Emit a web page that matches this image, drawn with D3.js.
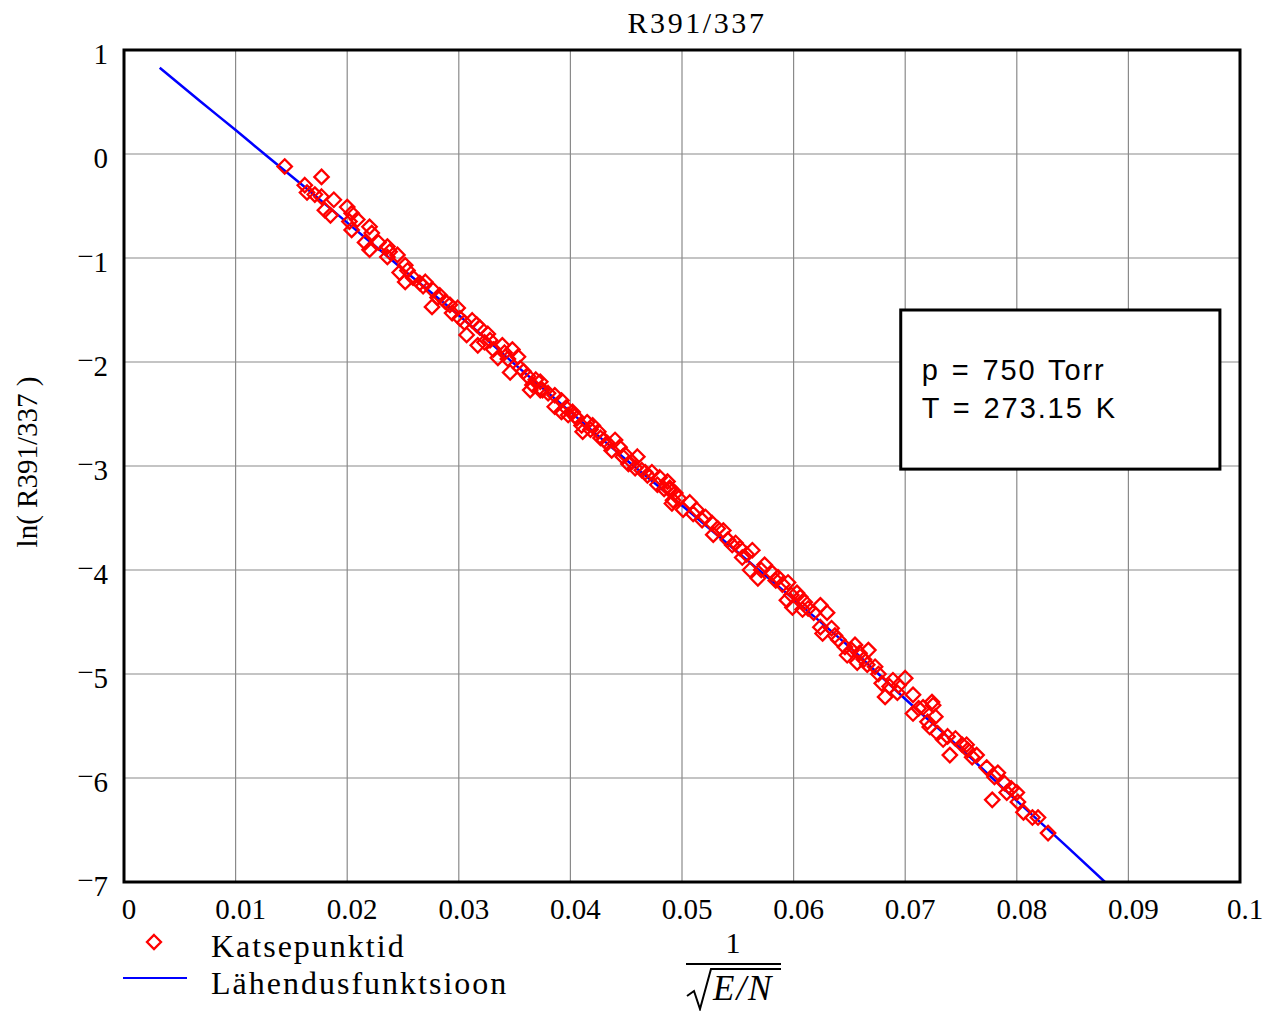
<!DOCTYPE html>
<html>
<head>
<meta charset="utf-8">
<script src="https://cdn.jsdelivr.net/npm/d3@7"></script>
<style>
  body { margin: 0; background: #fff; }
  text { font-family: "Liberation Serif", "Times New Roman", serif; fill: #000; }
</style>
</head>
<body>
<svg id="chart" width="1267" height="1011"></svg>
<script>
// ---- data -------------------------------------------------------------
const chartTitle = "R391/337";
const yAxisTitle = "ln( R391/337 )";
const legendLabels = ["Katsepunktid", "Lähendusfunktsioon"];
const infoLines = ["p = 750 Torr", "T = 273.15 K"];

const xTicks = [0, 0.01, 0.02, 0.03, 0.04, 0.05, 0.06, 0.07, 0.08, 0.09, 0.1];
const xTickLabels = ["0", "0.01", "0.02", "0.03", "0.04", "0.05", "0.06", "0.07", "0.08", "0.09", "0.1"];
const yTicks = [1, 0, -1, -2, -3, -4, -5, -6, -7];
const yTickLabels = ["1", "0", "−1", "−2", "−3", "−4", "−5", "−6", "−7"];

// measured points: 1/sqrt(E/N) and ln(R391/337)
const pointX = [
  0.0144, 0.0177, 0.0162, 0.0164, 0.0171, 0.0177, 0.0188, 0.0180, 0.0185, 0.0200,
  0.0204, 0.0209, 0.0202, 0.0204, 0.0220, 0.0222, 0.0216, 0.0220, 0.0228, 0.0236,
  0.0238, 0.0245, 0.0236, 0.0252, 0.0247, 0.0252,
  0.0254, 0.0259, 0.0265, 0.0270, 0.0277, 0.0276, 0.0281, 0.0288, 0.0294, 0.0299,
  0.0301, 0.0307, 0.0312, 0.0316, 0.0319, 0.0317, 0.0323, 0.0328, 0.0331, 0.0339,
  0.0335, 0.0341, 0.0348, 0.0353, 0.0346, 0.0355, 0.0362, 0.0366, 0.0364, 0.0375,
  0.0373, 0.0373, 0.0386, 0.0392, 0.0386, 0.0392, 0.0398, 0.0402, 0.0406, 0.0410,
  0.0415, 0.0411, 0.0420, 0.0425, 0.0427, 0.0433, 0.0440, 0.0437, 0.0444, 0.0449,
  0.0455, 0.0460, 0.0458, 0.0464, 0.0469, 0.0473, 0.0478, 0.0480, 0.0487, 0.0489,
  0.0492,
  0.0489, 0.0494, 0.0491, 0.0501, 0.0507, 0.0513, 0.0518, 0.0521, 0.0527, 0.0528,
  0.0537, 0.0541, 0.0548, 0.0552, 0.0554, 0.0563, 0.0561, 0.0568, 0.0574, 0.0581,
  0.0586, 0.0590, 0.0595, 0.0594, 0.0599, 0.0606, 0.0608,
  0.0603, 0.0610, 0.0613, 0.0624, 0.0630, 0.0624, 0.0626, 0.0634, 0.0640, 0.0646,
  0.0648, 0.0655, 0.0659, 0.0667, 0.0657, 0.0666, 0.0673, 0.0679, 0.0682, 0.0689,
  0.0694, 0.0700, 0.0693, 0.0707, 0.0707, 0.0716, 0.0720, 0.0724,
  0.0725, 0.0727, 0.0722, 0.0729, 0.0734, 0.0740, 0.0745, 0.0751, 0.0755, 0.0756,
  0.0764, 0.0773, 0.0778, 0.0780, 0.0783, 0.0789, 0.0791, 0.0800, 0.0801, 0.0806,
  0.0814, 0.0819, 0.0828,
  0.0268, 0.0283, 0.0292, 0.0305, 0.0326, 0.0344, 0.0358, 0.0369, 0.0380, 0.0396,
  0.0404, 0.0418, 0.0430, 0.0447, 0.0452, 0.0467, 0.0484, 0.0497, 0.0510, 0.0532,
  0.0545, 0.0558, 0.0571, 0.0584, 0.0598, 0.0618, 0.0637, 0.0652, 0.0663, 0.0676,
  0.0686, 0.0712, 0.0738, 0.0760, 0.0795
];
const pointY = [
  -0.12, -0.22, -0.30, -0.37, -0.39, -0.41, -0.44, -0.54, -0.59, -0.51,
  -0.57, -0.63, -0.65, -0.73, -0.70, -0.76, -0.85, -0.92, -0.85, -0.89,
  -0.94, -0.97, -0.99, -1.07, -1.14, -1.23,
  -1.12, -1.19, -1.24, -1.23, -1.31, -1.47, -1.38, -1.42, -1.53, -1.48,
  -1.58, -1.74, -1.60, -1.64, -1.67, -1.84, -1.81, -1.79, -1.88, -1.84,
  -1.96, -1.91, -1.88, -1.95, -2.10, -2.06, -2.14, -2.22, -2.27, -2.27,
  -2.19, -2.27, -2.32, -2.37, -2.43, -2.48, -2.51, -2.48, -2.54, -2.61,
  -2.58, -2.67, -2.61, -2.67, -2.73, -2.78, -2.75, -2.85, -2.82, -2.89,
  -2.96, -2.91, -3.02, -3.04, -3.09, -3.06, -3.18, -3.11, -3.15, -3.23,
  -3.33,
  -3.21, -3.26, -3.36, -3.42, -3.35, -3.42, -3.52, -3.49, -3.55, -3.66,
  -3.62, -3.71, -3.74, -3.79, -3.88, -3.81, -4.00, -4.08, -3.95, -4.03,
  -4.07, -4.14, -4.12, -4.29, -4.36, -4.26, -4.38,
  -4.22, -4.31, -4.37, -4.34, -4.41, -4.55, -4.61, -4.56, -4.67, -4.74,
  -4.82, -4.72, -4.80, -4.77, -4.89, -4.91, -4.93, -5.09, -5.22, -5.06,
  -5.11, -5.04, -5.18, -5.20, -5.38, -5.32, -5.46, -5.27,
  -5.30, -5.41, -5.51, -5.57, -5.63, -5.78, -5.62, -5.68, -5.68, -5.73,
  -5.78, -5.90, -6.21, -5.99, -5.95, -6.05, -6.14, -6.14, -6.23, -6.33,
  -6.38, -6.38, -6.53,
  -1.27, -1.36, -1.45, -1.62, -1.73, -1.97, -2.09, -2.17, -2.30, -2.44,
  -2.52, -2.65, -2.75, -2.91, -2.98, -3.06, -3.22, -3.31, -3.46, -3.60,
  -3.76, -3.85, -4.00, -4.10, -4.24, -4.41, -4.63, -4.77, -4.86, -5.00,
  -5.12, -5.33, -5.60, -5.80, -6.10
];

// fitted curve
const fitX = [0.0032, 0.0068, 0.0100, 0.0128, 0.0160, 0.0200, 0.0250, 0.0300, 0.0350, 0.0400,
              0.0450, 0.0500, 0.0550, 0.0600, 0.0650, 0.0700, 0.0750, 0.0800, 0.0843, 0.0879];
const fitY = [0.83, 0.51, 0.23, -0.02, -0.30, -0.66, -1.11, -1.55, -2.02, -2.48,
              -2.94, -3.38, -3.83, -4.28, -4.74, -5.24, -5.72, -6.22, -6.64, -7.00];

// ---- layout ------------------------------------------------------------
const plot = { left: 124, top: 50, right: 1240, bottom: 882 };

const svg = d3.select("#chart");
const x = d3.scaleLinear().domain([0, 0.1]).range([plot.left, plot.right]);
const y = d3.scaleLinear().domain([-7, 1]).range([plot.bottom, plot.top]);

// grid
const grid = svg.append("g").attr("stroke", "#8a8a8a").attr("stroke-width", 1.2);
grid.selectAll("line.v").data(xTicks.slice(1, -1)).join("line")
  .attr("x1", d => x(d)).attr("x2", d => x(d))
  .attr("y1", plot.top).attr("y2", plot.bottom);
grid.selectAll("line.h").data(yTicks.slice(1, -1)).join("line")
  .attr("x1", plot.left).attr("x2", plot.right)
  .attr("y1", d => y(d)).attr("y2", d => y(d));

// clip for marks
svg.append("clipPath").attr("id", "plotClip").append("rect")
  .attr("x", plot.left).attr("y", plot.top)
  .attr("width", plot.right - plot.left).attr("height", plot.bottom - plot.top);

// info box
const box = { x0: 0.0696, x1: 0.0982, y0: -1.5, y1: -3.03 };
svg.append("rect")
  .attr("x", x(box.x0)).attr("y", y(box.y0))
  .attr("width", x(box.x1) - x(box.x0)).attr("height", y(box.y1) - y(box.y0))
  .attr("fill", "#fff").attr("stroke", "#000").attr("stroke-width", 3);
svg.append("g").selectAll("text").data(infoLines).join("text")
  .attr("x", x(box.x0) + 21)
  .attr("y", (d, i) => y(box.y0) + 70 + i * 38)
  .style("font-family", "'Liberation Sans', Arial, sans-serif")
  .style("font-size", "29px")
  .style("letter-spacing", "1.9px")
  .style("word-spacing", "2px")
  .text(d => d);

// fitted line
const fitData = fitX.map((v, i) => [v, fitY[i]]);
svg.append("path")
  .datum(fitData)
  .attr("clip-path", "url(#plotClip)")
  .attr("fill", "none")
  .attr("stroke", "#0000ff")
  .attr("stroke-width", 2.5)
  .attr("d", d3.line().x(d => x(d[0])).y(d => y(d[1])).curve(d3.curveMonotoneX));

// measured points as open diamonds
const diamond = r => `M0,${-r}L${r},0L0,${r}L${-r},0Z`;
const pts = pointX.map((v, i) => [v, pointY[i]]);
svg.append("g")
  .attr("clip-path", "url(#plotClip)")
  .selectAll("path").data(pts).join("path")
  .attr("transform", d => `translate(${x(d[0])},${y(d[1])})`)
  .attr("d", diamond(7.2))
  .attr("fill", "none")
  .attr("stroke", "#ff0000")
  .attr("stroke-width", 2.3);

// frame
svg.append("rect")
  .attr("x", plot.left).attr("y", plot.top)
  .attr("width", plot.right - plot.left).attr("height", plot.bottom - plot.top)
  .attr("fill", "none").attr("stroke", "#000").attr("stroke-width", 3);

// x tick labels
svg.append("g").selectAll("text").data(xTicks).join("text")
  .attr("x", d => x(d) + 5)
  .attr("y", plot.bottom + 37)
  .attr("text-anchor", "middle")
  .style("font-size", "29px")
  .text((d, i) => xTickLabels[i]);

// y tick labels, with raised minus sign
const yl = svg.append("g").selectAll("text").data(yTicks).join("text")
  .attr("x", plot.left - 16)
  .attr("y", d => y(d) + 14)
  .attr("text-anchor", "end")
  .style("font-size", "29px");
yl.each(function (d, i) {
  const t = d3.select(this);
  const lab = yTickLabels[i];
  if (lab.startsWith("−")) {
    t.append("tspan").attr("dy", -6).text("−");
    t.append("tspan").attr("dy", 6).text(lab.slice(1));
  } else {
    t.text(lab);
  }
});

// title
svg.append("text")
  .attr("x", 697).attr("y", 33)
  .attr("text-anchor", "middle")
  .style("font-size", "30px")
  .style("letter-spacing", "2.6px")
  .text(chartTitle);

// y axis title
svg.append("text")
  .attr("transform", "translate(37,462) rotate(-90)")
  .attr("text-anchor", "middle")
  .style("font-size", "29px")
  .text(yAxisTitle);

// x axis title: 1 / sqrt(E/N)
const fx = 733;
svg.append("text")
  .attr("x", fx).attr("y", 953)
  .attr("text-anchor", "middle")
  .style("font-size", "30px")
  .text("1");
svg.append("line")
  .attr("x1", 686).attr("x2", 781).attr("y1", 964).attr("y2", 964)
  .attr("stroke", "#000").attr("stroke-width", 2);
svg.append("path")
  .attr("d", "M687,996 L694,991 L700,1009 L711,969 L781,969")
  .attr("fill", "none").attr("stroke", "#000").attr("stroke-width", 2)
  .attr("stroke-linejoin", "miter");
svg.append("text")
  .attr("x", 713).attr("y", 1000)
  .style("font-size", "35px")
  .style("font-style", "italic")
  .style("letter-spacing", "2px")
  .text("E/N");

// legend
const lg = svg.append("g");
lg.append("path")
  .attr("transform", "translate(154,942)")
  .attr("d", diamond(7))
  .attr("fill", "none").attr("stroke", "#ff0000").attr("stroke-width", 2.3);
lg.append("line")
  .attr("x1", 123).attr("x2", 187).attr("y1", 978).attr("y2", 978)
  .attr("stroke", "#0000ff").attr("stroke-width", 2.2);
lg.selectAll("text").data(legendLabels).join("text")
  .attr("x", 211)
  .attr("y", (d, i) => 957 + i * 37)
  .style("font-size", "32px")
  .style("letter-spacing", "2px")
  .text(d => d);
</script>
</body>
</html>
